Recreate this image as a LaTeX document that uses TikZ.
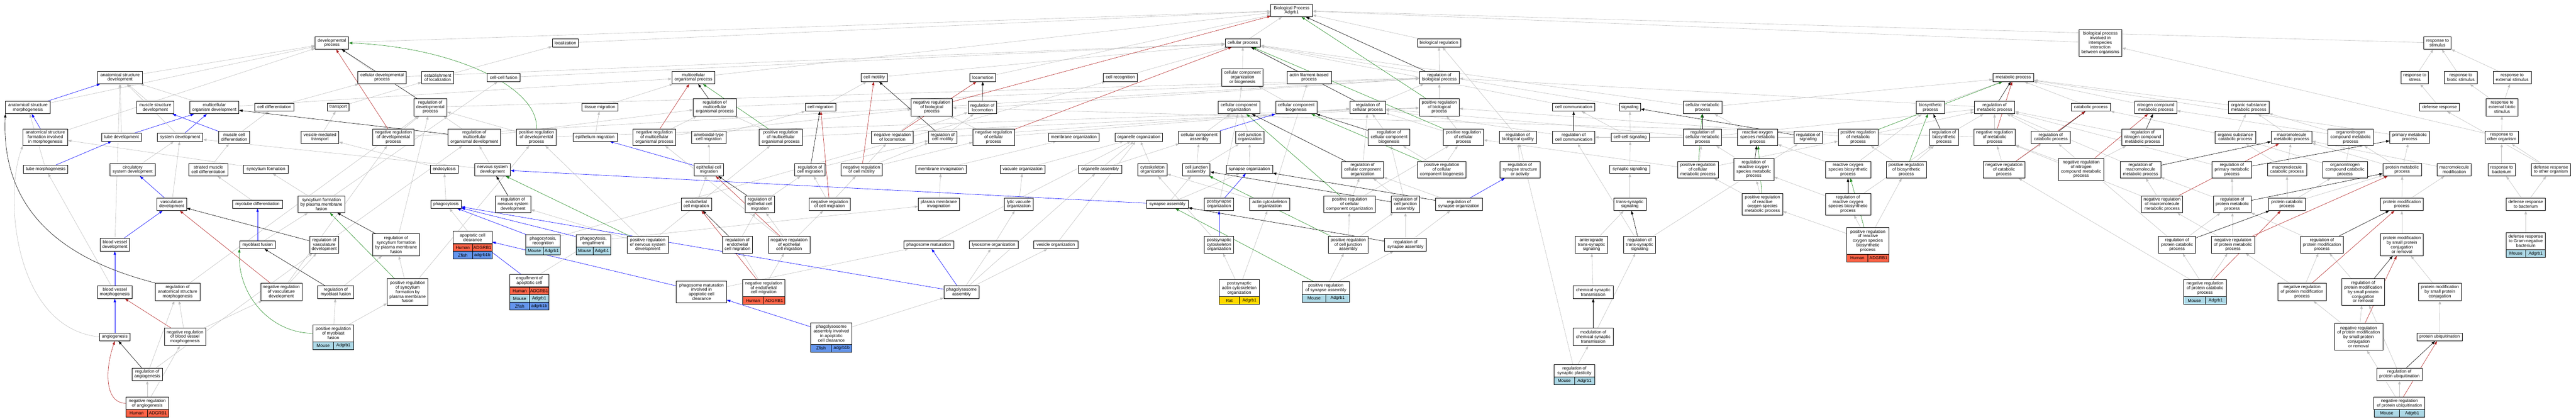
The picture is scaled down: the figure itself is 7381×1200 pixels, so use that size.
\documentclass[tikz,border=0pt]{standalone}
\usepackage{fontspec}
\setmainfont{Liberation Sans}
\usetikzlibrary{arrows.meta}
\definecolor{human}{HTML}{FF6347}
\definecolor{mouse}{HTML}{ADD8E6}
\definecolor{zfish}{HTML}{6495ED}
\definecolor{rat}{HTML}{FFD700}
\definecolor{gedge}{HTML}{C0C0C0}
\definecolor{fgreen}{HTML}{228B22}
\definecolor{fbrick}{HTML}{B22222}
\pgfdeclarelayer{bglayer}
\pgfdeclarelayer{edgelayer}
\pgfsetlayers{bglayer,edgelayer,main}
\tikzset{
 gonode/.style={draw=black,line width=1.1pt,fill=white,rectangle,align=center,inner sep=1.5pt,font=\fontsize{12.5}{13}\selectfont},
 gorow/.style={draw=black,line width=1pt,rectangle,inner sep=0pt,minimum height=22pt,font=\fontsize{12.5}{13}\selectfont},
 edgebase/.style={line width=0.9pt,-{Triangle[length=10pt,width=7pt]}},
 isa/.style={edgebase,color=gedge},
 partof/.style={edgebase,color=blue},
 regl/.style={edgebase,color=black},
 negreg/.style={edgebase,color=fbrick},
 posreg/.style={edgebase,color=fgreen}
}
\newcommand{\GOnode}[6]{\node[gonode,minimum width=#4pt,minimum height=#5pt] (#1) at (#2,#3) {#6};}
\newcommand{\GOrow}[7]{\node[gorow,fill=#5,minimum width={#4pt/2}] (#1-l) at ({#2-#4/4},{#3+11}) {#6};\node[gorow,fill=#5,minimum width={#4pt/2}] (#1-r) at ({#2+#4/4},{#3+11}) {#7};}
\begin{document}
\begin{tikzpicture}[x=1pt,y=-1pt]
\begin{pgfonlayer}{bglayer}
\fill[white] (0,0) rectangle (7381,1200);
\end{pgfonlayer}
\useasboundingbox (0,0) rectangle (7381,1200);
% level 30
\GOnode{bp}{3701}{30}{119}{36}{Biological Process\\Adgrb1}
% level 123
\GOnode{dp}{951}{123}{96}{36}{developmental\\process}
\GOnode{loc}{1620}{123}{75}{23}{localization}
\GOnode{cp}{3561}{123}{101}{23}{cellular process}
\GOnode{breg}{4123}{123}{124}{23}{biological regulation}
\GOnode{bpiii}{6018}{123}{123}{76}{biological process\\involved in\\interspecies\\interaction\\between organisms}
\GOnode{rstim}{6984}{123}{78}{36}{response to\\stimulus}
% level 222
\GOnode{asdev}{344}{222}{128}{36}{anatomical structure\\development}
\GOnode{celldev}{1095}{222}{139}{36}{cellular developmental\\process}
\GOnode{estloc}{1254}{222}{91}{36}{establishment\\of localization}
\GOnode{ccfus}{1443}{222}{94}{23}{cell-cell fusion}
\GOnode{mop}{1987}{222}{123}{36}{multicellular\\organismal process}
\GOnode{cmot}{2505}{222}{76}{23}{cell motility}
\GOnode{locom}{2816}{222}{74}{23}{locomotion}
\GOnode{crec}{3210}{222}{97}{23}{cell recognition}
\GOnode{ccob}{3560}{222}{118}{49}{cellular component\\organization\\or biogenesis}
\GOnode{afbp}{3751}{222}{127}{36}{actin filament-based\\process}
\GOnode{rbp}{4124}{222}{114}{36}{regulation of\\biological process}
\GOnode{mp}{5769}{222}{117}{23}{metabolic process}
\GOnode{rstress}{6919}{222}{78}{36}{response to\\stress}
\GOnode{rbiot}{7051}{222}{95}{36}{response to\\biotic stimulus}
\GOnode{rext}{7198}{222}{109}{36}{response to\\external stimulus}
% level 307
\GOnode{asmorph}{80}{308}{128}{36}{anatomical structure\\morphogenesis}
\GOnode{msdev}{445}{308}{107}{36}{muscle structure\\development}
\GOnode{mod}{614}{308}{141}{36}{multicellular\\organism development}
\GOnode{celldiff}{786}{307}{112}{23}{cell differentiation}
\GOnode{transp}{969}{307}{61}{23}{transport}
\GOnode{rdp}{1233}{307}{95}{50}{regulation of\\developmental\\process}
\GOnode{tmig}{1719}{307}{103}{23}{tissue migration}
\GOnode{rmop}{2048}{307}{123}{50}{regulation of\\multicellular\\organismal process}
\GOnode{cmig}{2351}{307}{87}{23}{cell migration}
\GOnode{nrbp}{2670}{307}{118}{50}{negative regulation\\of biological\\process}
\GOnode{rloc}{2815}{308}{82}{36}{regulation of\\locomotion}
\GOnode{cco}{3550}{308}{119}{36}{cellular component\\organization}
\GOnode{ccb}{3714}{308}{118}{36}{cellular component\\biogenesis}
\GOnode{rcp}{3919}{308}{101}{36}{regulation of\\cellular process}
\GOnode{prbp}{4124}{307}{114}{50}{positive regulation\\of biological\\process}
\GOnode{ccomm}{4509}{307}{122}{23}{cell communication}
\GOnode{sig}{4670}{307}{61}{23}{signaling}
\GOnode{cmp}{4878}{308}{111}{36}{cellular metabolic\\process}
\GOnode{bsp}{5531}{308}{80}{36}{biosynthetic\\process}
\GOnode{rmp}{5715}{308}{116}{36}{regulation of\\metabolic process}
\GOnode{catp}{5991}{307}{112}{23}{catabolic process}
\GOnode{ncmp}{6177}{308}{120}{36}{nitrogen compound\\metabolic process}
\GOnode{osmp}{6443}{308}{116}{36}{organic substance\\metabolic process}
\GOnode{defr}{6990}{307}{114}{23}{defense response}
\GOnode{rebs}{7169}{307}{91}{50}{response to\\external biotic\\stimulus}
% level 393
\GOnode{asform}{130}{393}{128}{48}{anatomical structure\\formation involved\\in morphogenesis}
\GOnode{tubedev}{348}{393}{114}{23}{tube development}
\GOnode{sysdev}{516}{393}{130}{23}{system development}
\GOnode{mcdiff}{671}{393}{88}{36}{muscle cell\\differentiation}
\GOnode{vmt}{917}{393}{108}{36}{vesicle-mediated\\transport}
\GOnode{nrdp}{1127}{393}{118}{48}{negative regulation\\of developmental\\process}
\GOnode{rmod}{1359}{393}{150}{48}{regulation of\\multicellular\\organismal development}
\GOnode{prdp}{1537}{393}{114}{48}{positive regulation\\of developmental\\process}
\GOnode{epim}{1705}{393}{127}{23}{epithelium migration}
\GOnode{nrmop}{1875}{393}{123}{48}{negative regulation\\of multicellular\\organismal process}
\GOnode{amcm}{2031}{393}{99}{36}{ameboidal-type\\cell migration}
\GOnode{prmop}{2237}{393}{123}{48}{positive regulation\\of multicellular\\organismal process}
\GOnode{nrloc}{2557}{393}{119}{36}{negative regulation\\of locomotion}
\GOnode{rcmot}{2701}{393}{81}{36}{regulation of\\cell motility}
\GOnode{nrcp}{2847}{393}{119}{48}{negative regulation\\of cellular\\process}
\GOnode{memorg}{3077}{393}{145}{23}{membrane organization}
\GOnode{orgorg}{3263}{393}{136}{23}{organelle organization}
\GOnode{cca}{3436}{393}{119}{36}{cellular component\\assembly}
\GOnode{cjo}{3581}{393}{80}{36}{cell junction\\organization}
\GOnode{rccb}{3980}{393}{119}{48}{regulation of\\cellular component\\biogenesis}
\GOnode{prcp}{4193}{393}{115}{48}{positive regulation\\of cellular\\process}
\GOnode{rbq}{4349}{393}{106}{36}{regulation of\\biological quality}
\GOnode{rccomm}{4509}{393}{122}{36}{regulation of\\cell communication}
\GOnode{ccsig}{4671}{393}{109}{23}{cell-cell signaling}
\GOnode{rcmp}{4878}{393}{110}{48}{regulation of\\cellular metabolic\\process}
\GOnode{rosmp}{5036}{393}{115}{48}{reactive oxygen\\species metabolic\\process}
\GOnode{rsig}{5181}{393}{81}{36}{regulation of\\signaling}
\GOnode{prmp}{5324}{393}{114}{48}{positive regulation\\of metabolic\\process}
\GOnode{rbsp}{5570}{393}{82}{48}{regulation of\\biosynthetic\\process}
\GOnode{nrmp}{5715}{393}{118}{48}{negative regulation\\of metabolic\\process}
\GOnode{rcatp}{5876}{393}{112}{36}{regulation of\\catabolic process}
\GOnode{rncmp}{6139}{393}{120}{48}{regulation of\\nitrogen compound\\metabolic process}
\GOnode{oscp}{6405}{393}{116}{36}{organic substance\\catabolic process}
\GOnode{mmp}{6566}{393}{116}{36}{macromolecule\\metabolic process}
\GOnode{oncmp}{6735}{393}{130}{48}{organonitrogen\\compound metabolic\\process}
\GOnode{pmp}{6904}{393}{113}{36}{primary metabolic\\process}
\GOnode{roo}{7168}{393}{96}{36}{response to\\other organism}
% level 486
\GOnode{tubemorph}{131}{485}{127}{23}{tube morphogenesis}
\GOnode{circ}{380}{486}{131}{36}{circulatory\\system development}
\GOnode{smcd}{597}{486}{112}{36}{striated muscle\\cell differentiation}
\GOnode{syncf}{762}{485}{128}{23}{syncytium formation}
\GOnode{endo}{1273}{485}{80}{23}{endocytosis}
\GOnode{nsd}{1411}{486}{103}{36}{nervous system\\development}
\GOnode{ecm}{2031}{486}{85}{36}{epithelial cell\\migration}
\GOnode{rcm}{2321}{486}{87}{36}{regulation of\\cell migration}
\GOnode{nrcmot}{2469}{486}{119}{36}{negative regulation\\of cell motility}
\GOnode{meminv}{2696}{485}{144}{23}{membrane invagination}
\GOnode{vacorg}{2930}{485}{129}{23}{vacuole organization}
\GOnode{orgasm}{3152}{485}{123}{23}{organelle assembly}
\GOnode{cytorg}{3302}{486}{84}{36}{cytoskeleton\\organization}
\GOnode{cja}{3428}{486}{78}{36}{cell junction\\assembly}
\GOnode{synorg}{3580}{485}{133}{23}{synapse organization}
\GOnode{rcco}{3904}{486}{119}{48}{regulation of\\cellular component\\organization}
\GOnode{prccb}{4131}{486}{140}{48}{positive regulation\\of cellular\\component biogenesis}
\GOnode{rssa}{4355}{486}{115}{48}{regulation of\\synapse structure\\or activity}
\GOnode{synsig}{4670}{485}{115}{23}{synaptic signaling}
\GOnode{prcmp}{4865}{486}{117}{48}{positive regulation\\of cellular\\metabolic process}
\GOnode{rrosmp}{5025}{485}{115}{63}{regulation of\\reactive oxygen\\species metabolic\\process}
\GOnode{rosbp}{5295}{486}{130}{48}{reactive oxygen\\species biosynthetic\\process}
\GOnode{prbsp}{5462}{486}{115}{48}{positive regulation\\of biosynthetic\\process}
\GOnode{nrcatp}{5742}{486}{119}{48}{negative regulation\\of catabolic\\process}
\GOnode{nrncmp}{5963}{485}{131}{63}{negative regulation\\of nitrogen\\compound metabolic\\process}
\GOnode{rmmp}{6133}{486}{116}{48}{regulation of\\macromolecule\\metabolic process}
\GOnode{rpmp}{6395}{486}{113}{48}{regulation of\\primary metabolic\\process}
\GOnode{mcatp}{6553}{486}{112}{36}{macromolecule\\catabolic process}
\GOnode{onccp}{6719}{486}{128}{48}{organonitrogen\\compound catabolic\\process}
\GOnode{prmetp}{6883}{486}{110}{36}{protein metabolic\\process}
\GOnode{mmod}{7032}{486}{98}{36}{macromolecule\\modification}
\GOnode{rbact}{7168}{486}{79}{36}{response to\\bacterium}
\GOnode{droo}{7309}{486}{113}{36}{defense response\\to other organism}
% level 585
\GOnode{vascdev}{492}{585}{85}{36}{vasculature\\development}
\GOnode{myotd}{738}{585}{143}{23}{myotube differentiation}
\GOnode{sfpmf}{921}{585}{135}{48}{syncytium formation\\by plasma membrane\\fusion}
\GOnode{phago}{1278}{585}{87}{23}{phagocytosis}
\GOnode{rnsd}{1470}{585}{102}{48}{regulation of\\nervous system\\development}
\GOnode{endcm}{1995}{585}{87}{36}{endothelial\\cell migration}
\GOnode{repicm}{2177}{585}{85}{48}{regulation of\\epithelial cell\\migration}
\GOnode{nrcm}{2377}{585}{119}{36}{negative regulation\\of cell migration}
\GOnode{pminv}{2690}{585}{117}{36}{plasma membrane\\invagination}
\GOnode{lvo}{2919}{585}{82}{36}{lytic vacuole\\organization}
\GOnode{synasm}{3345}{585}{119}{23}{synapse assembly}
\GOnode{psorg}{3493}{585}{84}{36}{postsynapse\\organization}
\GOnode{acorg}{3638}{585}{116}{36}{actin cytoskeleton\\organization}
\GOnode{prcco}{3867}{585}{148}{48}{positive regulation\\of cellular\\component organization}
\GOnode{rcja}{4027}{585}{82}{48}{regulation of\\cell junction\\assembly}
\GOnode{rso}{4180}{585}{134}{36}{regulation of\\synapse organization}
\GOnode{tss}{4670}{585}{93}{36}{trans-synaptic\\signaling}
\GOnode{prrosmp}{5050}{585}{116}{62}{positive regulation\\of reactive\\oxygen species\\metabolic process}
\GOnode{rrosbp}{5295}{585}{130}{62}{regulation of\\reactive oxygen\\species biosynthetic\\process}
\GOnode{nrmmp}{6195}{585}{118}{48}{negative regulation\\of macromolecule\\metabolic process}
\GOnode{rprmp}{6396}{585}{109}{48}{regulation of\\protein metabolic\\process}
\GOnode{pcatp}{6553}{585}{105}{36}{protein catabolic\\process}
\GOnode{pmodp}{6882}{585}{123}{36}{protein modification\\process}
\GOnode{drb}{7237}{585}{113}{36}{defense response\\to bacterium}
% level 701
\GOnode{bvdev}{329}{701}{85}{36}{blood vessel\\development}
\GOnode{myobf}{738}{701}{103}{23}{myoblast fusion}
\GOnode{rvd}{929}{701}{84}{48}{regulation of\\vasculature\\development}
\GOnode{rsfpmf}{1135}{701}{135}{63}{regulation of\\syncytium formation\\by plasma membrane\\fusion}
\GOnode{acc}{1354}{680}{112}{36}{apoptotic cell\\clearance}
\GOrow{accA}{1354}{698}{112}{human}{Human}{ADGRB1}
\GOrow{accB}{1354}{720}{112}{zfish}{Zfish}{adgrb1b}
\GOnode{phrec}{1556}{690}{99}{36}{phagocytosis,\\recognition}
\GOrow{phrecA}{1556}{708}{99}{mouse}{Mouse}{Adgrb1}
\GOnode{pheng}{1700}{690}{99}{36}{phagocytosis,\\engulfment}
\GOrow{phengA}{1700}{708}{99}{mouse}{Mouse}{Adgrb1}
\GOnode{prnsd}{1856}{701}{119}{48}{positive regulation\\of nervous system\\development}
\GOnode{rendcm}{2113}{701}{87}{48}{regulation of\\endothelial\\cell migration}
\GOnode{nrepicm}{2261}{701}{119}{48}{negative regulation\\of epithelial\\cell migration}
\GOnode{phmat}{2661}{701}{143}{23}{phagosome maturation}
\GOnode{lysorg}{2847}{701}{140}{23}{lysosome organization}
\GOnode{vesorg}{3025}{701}{126}{23}{vesicle organization}
\GOnode{pscorg}{3493}{701}{84}{48}{postsynaptic\\cytoskeleton\\organization}
\GOnode{prcja}{3863}{701}{115}{48}{positive regulation\\of cell junction\\assembly}
\GOnode{rsa}{4027}{701}{119}{36}{regulation of\\synapse assembly}
\GOnode{ats}{4560}{701}{93}{48}{anterograde\\trans-synaptic\\signaling}
\GOnode{rts}{4698}{701}{92}{48}{regulation of\\trans-synaptic\\signaling}
\GOnode{prrosbp}{5352}{690}{121}{76}{positive regulation\\of reactive\\oxygen species\\biosynthetic\\process}
\GOrow{prrosbpA}{5352}{728}{121}{human}{Human}{ADGRB1}
\GOnode{rpcp}{6238}{701}{106}{48}{regulation of\\protein catabolic\\process}
\GOnode{nrprmp}{6398}{701}{124}{48}{negative regulation\\of protein metabolic\\process}
\GOnode{rpmodp}{6653}{701}{122}{48}{regulation of\\protein modification\\process}
\GOnode{pmspcr}{6882}{701}{123}{63}{protein modification\\by small protein\\conjugation\\or removal}
\GOnode{drgnb}{7237}{690.5}{113}{49}{defense response\\to Gram-negative\\bacterium}
\GOrow{drgnbA}{7237}{715}{113}{mouse}{Mouse}{Adgrb1}
% level 836
\GOnode{bvmorph}{329}{837}{98}{36}{blood vessel\\morphogenesis}
\GOnode{roasm}{509}{836}{128}{50}{regulation of\\anatomical structure\\morphogenesis}
\GOnode{nrvd}{806}{836}{118}{50}{negative regulation\\of vasculature\\development}
\GOnode{romf}{962}{837}{103}{36}{regulation of\\myoblast fusion}
\GOnode{prsfpmf}{1168}{836}{117}{76}{positive regulation\\of syncytium\\formation by\\plasma membrane\\fusion}
\GOnode{eac}{1517}{804}{112}{36}{engulfment of\\apoptotic cell}
\GOrow{eacA}{1517}{822}{112}{human}{Human}{ADGRB1}
\GOrow{eacB}{1517}{844}{112}{mouse}{Mouse}{Adgrb1}
\GOrow{eacC}{1517}{866}{112}{zfish}{Zfish}{adgrb1b}
\GOnode{pmiacc}{2010}{836}{144}{62}{phagosome maturation\\involved in\\apoptotic cell\\clearance}
\GOnode{nrendcm}{2188}{825}{121}{50}{negative regulation\\of endothelial\\cell migration}
\GOrow{nrendcmA}{2188}{850}{121}{human}{Human}{ADGRB1}
\GOnode{phlasm}{2755}{837}{101}{36}{phagolysosome\\assembly}
\GOnode{paco}{3551}{825.5}{116}{49}{postsynaptic\\actin cytoskeleton\\organization}
\GOrow{pacoA}{3551}{850}{116}{rat}{Rat}{Adgrb1}
\GOnode{prsa}{3799}{825}{135}{36}{positive regulation\\of synapse assembly}
\GOrow{prsaA}{3799}{843}{135}{mouse}{Mouse}{Adgrb1}
\GOnode{cst}{4565}{837}{114}{36}{chemical synaptic\\transmission}
\GOnode{nrpcp}{6318}{825.5}{122}{49}{negative regulation\\of protein catabolic\\process}
\GOrow{nrpcpA}{6318}{850}{122}{mouse}{Mouse}{Adgrb1}
\GOnode{nrpmodp}{6596}{836}{138}{50}{negative regulation\\of protein modification\\process}
\GOnode{rpmspcr}{6771}{836}{123}{76}{regulation of\\protein modification\\by small protein\\conjugation\\or removal}
\GOnode{pmspc}{6991}{836}{123}{50}{protein modification\\by small protein\\conjugation}
% level 965
\GOnode{angio}{329}{965}{87}{23}{angiogenesis}
\GOnode{nrbvm}{530}{965}{118}{50}{negative regulation\\of blood vessel\\morphogenesis}
\GOnode{prmf}{955}{954.5}{116}{49}{positive regulation\\of myoblast\\fusion}
\GOrow{prmfA}{955}{979}{116}{mouse}{Mouse}{Adgrb1}
\GOnode{plaiacc}{2382}{955}{118}{62}{phagolysosome\\assembly involved\\in apoptotic\\cell clearance}
\GOrow{plaiaccA}{2382}{986}{118}{zfish}{Zfish}{adgrb1b}
\GOnode{mcst}{4565}{965}{114}{50}{modulation of\\chemical synaptic\\transmission}
\GOnode{nrpmspcr}{6758}{965}{139}{77}{negative regulation\\of protein modification\\by small protein\\conjugation\\or removal}
\GOnode{pu}{6990}{965}{130}{23}{protein ubiquitination}
% level 1072
\GOnode{roa}{422}{1072}{87}{36}{regulation of\\angiogenesis}
\GOnode{rsp}{4511}{1062}{116}{36}{regulation of\\synaptic plasticity}
\GOrow{rspA}{4511}{1080}{116}{mouse}{Mouse}{Adgrb1}
\GOnode{rpu}{6875}{1072}{130}{36}{regulation of\\protein ubiquitination}
% level 1155
\GOnode{nroa}{422}{1155}{122}{36}{negative regulation\\of angiogenesis}
\GOrow{nroaA}{422}{1173}{122}{human}{Human}{ADGRB1}
\GOnode{nrpu}{6875}{1155}{146}{36}{negative regulation\\of protein ubiquitination}
\GOrow{nrpuA}{6875}{1173}{146}{mouse}{Mouse}{Adgrb1}

\begin{pgfonlayer}{edgelayer}
\foreach \a/\b in {asdev/dp,asmorph/dp,asform/dp,tubedev/asdev,sysdev/asdev,msdev/asdev,
 mod/asdev,mod/mop,circ/sysdev,nsd/sysdev,vascdev/sysdev,bvdev/asdev,bvmorph/tubemorph,
 tubemorph/asmorph,roasm/rdp,nrbvm/roasm,nrbvm/nrvd,roa/roasm,roa/rvd,
 nroa/roa,nroa/nrbvm,celldev/dp,celldev/cp,celldiff/celldev,mcdiff/celldiff,smcd/mcdiff,
 myotd/smcd,myobf/sfpmf,sfpmf/syncf,sfpmf/ccfus,syncf/asform,transp/estloc,vmt/transp,
 nrdp/rdp,nrdp/nrbp,rvd/rmod,nrvd/rvd,nrvd/nrdp,romf/rsfpmf,prmf/romf,prmf/prsfpmf,
 rsfpmf/rdp,prsfpmf/rsfpmf,prsfpmf/prdp,prdp/rdp,prdp/prbp,rmod/rdp,rmod/rmop,rdp/rbp,
 dp/bp,loc/bp,estloc/loc,ccfus/cp,tmig/mop,epim/tmig,endo/vmt,phago/endo,rnsd/rmod,
 prnsd/rnsd,prnsd/prmop,prnsd/prdp,acc/phago,phrec/crec,pheng/pminv,eac/pheng,
 pmiacc/phmat,plaiacc/phlasm,phlasm/lysorg,phlasm/vesorg,phlasm/orgasm,phmat/orgorg,
 meminv/memorg,pminv/meminv,vacorg/orgorg,lvo/vacorg,lysorg/lvo,vesorg/orgorg,
 orgasm/orgorg,orgasm/cca,cytorg/orgorg,cca/cco,cjo/cco,cja/cca,cja/cjo,synorg/cjo,
 synasm/cja,synasm/synorg,psorg/cco,pscorg/cytorg,paco/pscorg,paco/acorg,acorg/cytorg,
 acorg/afbp,cco/ccob,ccb/ccob,ccob/cp,crec/cp,cp/bp,afbp/cp,breg/bp,rbp/breg,prbp/rbp,
 nrbp/rbp,rcp/rbp,nrcp/rcp,nrcp/nrbp,prcp/rcp,prcp/prbp,rccb/rcp,prccb/rccb,prccb/prcp,
 rcco/rcp,prcco/rcco,prcco/prcp,rcja/rcco,rcja/rccb,rso/rcco,prcja/rcja,prcja/prcco,
 rsa/rso,rsa/rcja,prsa/prcja,prsa/rsa,rbq/breg,rssa/rbq,ccomm/cp,rccomm/rcp,sig/cp,
 ccsig/sig,ccsig/ccomm,synsig/ccsig,tss/synsig,ats/tss,rts/rccomm,rts/rsig,cst/ats,
 mcst/rts,rsp/mcst,rsp/rbq,rsig/rccomm,cmp/mp,cmp/cp,rcmp/rcp,rcmp/rmp,prcmp/rcmp,
 prcmp/prmp,prcmp/prcp,rosmp/cmp,rrosmp/rcmp,prrosmp/rrosmp,prrosmp/prcmp,rosbp/rosmp,
 rosbp/bsp,rrosbp/rrosmp,rrosbp/rbsp,prrosbp/rrosbp,prrosbp/prrosmp,prrosbp/prbsp,
 prmp/rmp,prmp/prbp,bsp/mp,rmp/rbp,catp/mp,rbsp/rmp,nrmp/rmp,nrmp/nrbp,rcatp/rmp,
 prbsp/rbsp,prbsp/prmp,nrcatp/nrmp,nrcatp/rcatp,nrncmp/nrmp,nrncmp/rncmp,ncmp/mp,
 osmp/mp,rncmp/rmp,oscp/osmp,oscp/catp,mmp/osmp,oncmp/ncmp,oncmp/osmp,rpmp/rmp,
 mcatp/mmp,mcatp/oscp,onccp/oncmp,onccp/oscp,nrmmp/rmmp,nrmmp/nrmp,rmmp/rmp,
 rprmp/rpmp,rprmp/rmmp,pcatp/mcatp,pcatp/prmetp,pcatp/onccp,rpcp/rprmp,rpcp/rcatp,
 nrprmp/rprmp,nrprmp/nrmmp,rpmodp/rprmp,nrpcp/rpcp,nrpcp/nrprmp,nrpcp/nrcatp,
 nrpmodp/rpmodp,nrpmodp/nrprmp,nrpmspcr/nrpmodp,nrpmspcr/rpmspcr,rstim/bp,
 rstress/rstim,rbiot/rstim,rext/rstim,defr/rstress,rebs/rext,rebs/rbiot,pmp/mp,
 roo/rebs,roo/bpiii,bpiii/bp,prmetp/pmp,prmetp/oncmp,prmetp/mmp,mmod/mmp,rbact/roo,
 droo/roo,droo/defr,drb/rbact,drb/droo,drgnb/drb,pmodp/prmetp,pmodp/mmod,
 pmspcr/pmodp,rpmspcr/rpmodp,pmspc/pmspcr,pu/pmspc,rpu/rpmspcr,nrpu/rpu,
 nrpu/nrpmspcr,cmig/cmot,amcm/cmig,ecm/amcm,endcm/ecm,rcm/rcmot,nrcm/rcm,
 nrcm/nrcmot,repicm/rcm,rendcm/repicm,nrepicm/repicm,nrepicm/nrcm,nrepicm/nrmop,
 nrendcm/rendcm,nrendcm/nrepicm,nrmop/rmop,nrmop/nrbp,rmop/rbp,prmop/rmop,
 prmop/prbp,cmot/cp,locom/bp,mop/bp,rloc/rbp,nrloc/rloc,nrloc/nrbp,rcmot/rloc,
 rcmot/rcp,nrcmot/nrloc,nrcmot/rcmot,nrcmot/nrcp}
 \draw[isa] (\a) -- (\b);
\draw[isa] (angio.west) .. controls (40,940) and (10,560) .. (asform.south west);
\foreach \a/\b in {asmorph/asdev,asform/asmorph,tubedev/mod,sysdev/mod,mcdiff/msdev,
 vascdev/circ,bvdev/vascdev,bvmorph/bvdev,angio/bvmorph,tubemorph/tubedev,myobf/myotd,
 ecm/epim,synasm/nsd,phrec/phago,pheng/phago,eac/acc,pmiacc/acc,phlasm/phago,
 plaiacc/pmiacc,phlasm/phmat,cca/ccb,psorg/synorg,pscorg/psorg,rso/rssa}
 \draw[partof] (\a) -- (\b);
\foreach \a/\b in {rvd/vascdev,roa/angio,rdp/dp,romf/myobf,rsfpmf/sfpmf,
 rmod/mod,rnsd/nsd,rbp/bp,rcp/cp,rccb/ccb,rcco/cco,rcja/cja,rso/synorg,rsa/synasm,
 rccomm/ccomm,rsig/sig,rts/tss,mcst/cst,rcmp/cmp,rrosmp/rosmp,rrosbp/rosbp,rmp/mp,
 rbsp/bsp,rcatp/catp,rncmp/ncmp,rmmp/mmp,rpmp/pmp,rprmp/prmetp,rpcp/pcatp,
 rpmodp/pmodp,rpmspcr/pmspcr,rpu/pu,rmop/mop,rcm/cmig,repicm/ecm,rendcm/endcm,
 rloc/locom,rcmot/cmot}
 \draw[regl] (\a) -- (\b);
\draw[regl] (roasm.north west) .. controls (250,760) and (0,650) .. (asmorph.south west);
\foreach \a/\b in {nrbvm/bvmorph,nrvd/vascdev,nrdp/dp,nrbp/bp,nrcp/cp,
 nrmop/mop,nrcm/cmig,nrepicm/ecm,nrendcm/endcm,nrloc/locom,nrcmot/cmot,nrmp/mp,
 nrcatp/catp,nrncmp/ncmp,nrmmp/mmp,nrprmp/prmetp,nrpcp/pcatp,nrpmodp/pmodp,
 nrpmspcr/pmspcr,nrpu/pu}
 \draw[negreg] (\a) -- (\b);
\draw[negreg] (nroa.west) .. controls (300,1155) and (300,1060) .. (angio.south);
\foreach \a/\b in {prsfpmf/sfpmf,prnsd/nsd,prbp/bp,prcp/cp,
 prmop/mop,prccb/ccb,prcco/cco,prcja/cja,prsa/synasm,prcmp/cmp,prrosmp/rosmp,
 prrosbp/rosbp,prmp/mp,prbsp/bsp}
 \draw[posreg] (\a) -- (\b);
\draw[posreg] (prmf.west) .. controls (780,955) and (680,850) .. (myobf.south west);
\draw[posreg] (prdp.north) .. controls (1545,250) and (1300,135) .. (dp.east);
\end{pgfonlayer}
\end{tikzpicture}
\end{document}
